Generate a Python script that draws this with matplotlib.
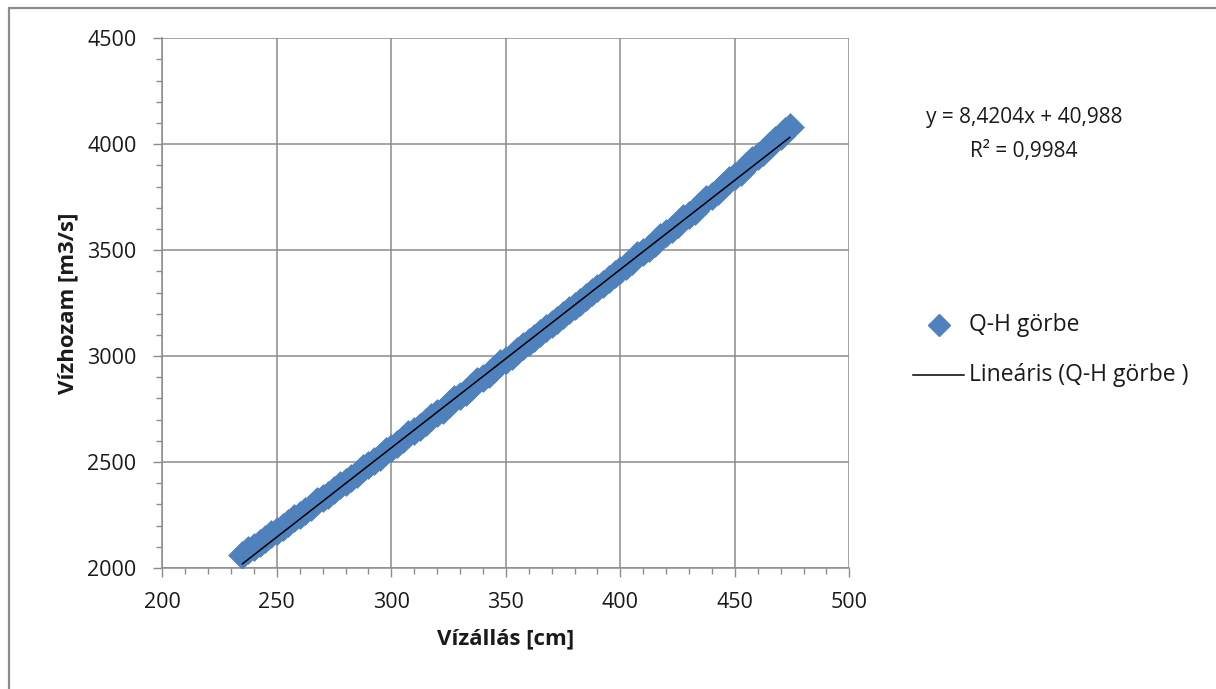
import matplotlib
matplotlib.use("Agg")
import matplotlib.pyplot as plt
from matplotlib.patches import Rectangle
from matplotlib.ticker import MultipleLocator
from matplotlib.lines import Line2D

# Water level (cm) and discharge (m3/s) observations
water_level = [
    235, 237.5, 240, 242.5, 245, 247.5, 250, 252.5, 255, 257.5,
    260, 262.5, 265, 267.5, 270, 272.5, 275, 277.5, 280, 282.5,
    285, 287.5, 290, 292.5, 295, 297.5, 300, 302.5, 305, 307.5,
    310, 312.5, 315, 317.5, 320, 322.5, 325, 327.5, 330, 332.5,
    335, 337.5, 340, 342.5, 345, 347.5, 350, 352.5, 355, 357.5,
    360, 362.5, 365, 367.5, 370, 372.5, 375, 377.5, 380, 382.5,
    385, 387.5, 390, 392.5, 395, 397.5, 400, 402.5, 405, 407.5,
    410, 412.5, 415, 417.5, 420, 422.5, 425, 427.5, 430, 432.5,
    435, 437.5, 440, 442.5, 445, 447.5, 450, 452.5, 455, 457.5,
    460, 462.5, 465, 467.5, 470, 472, 474,
]
discharge = [
    2060, 2084, 2099, 2116, 2138, 2161, 2176, 2192, 2214, 2238,
    2252, 2268, 2290, 2315, 2330, 2346, 2368, 2392, 2407, 2424,
    2446, 2471, 2486, 2503, 2526, 2551, 2567, 2584, 2607, 2632,
    2648, 2665, 2689, 2714, 2731, 2748, 2772, 2797, 2814, 2831,
    2856, 2881, 2898, 2916, 2941, 2966, 2983, 3001, 3025, 3050,
    3067, 3085, 3109, 3135, 3152, 3170, 3194, 3219, 3236, 3254,
    3279, 3304, 3321, 3339, 3364, 3389, 3406, 3424, 3449, 3475,
    3492, 3510, 3535, 3562, 3580, 3598, 3624, 3651, 3668, 3687,
    3713, 3740, 3758, 3777, 3804, 3832, 3850, 3870, 3897, 3925,
    3944, 3965, 3992, 4020, 4041, 4062, 4080,
]

# Linear trend line parameters
slope = 8.4204
intercept = 40.988
r_squared = 0.9984

series_label = "Q-H görbe"
trend_label = "Lineáris (Q-H görbe )"
x_label = "Vízállás [cm]"
y_label = "Vízhozam [m3/s]"

blue = "#4F81BD"
grid_gray = "#8C8C8C"
text_color = "#1a1a1a"

plt.rcParams["font.family"] = ["Open Sans", "DejaVu Sans"]

fig = plt.figure(figsize=(12.16, 6.89), dpi=100)
fig.patch.set_facecolor("white")

ax = fig.add_axes([162.3 / 1216, 1 - 568 / 689, (849.3 - 162.3) / 1216, (568 - 38.3) / 689])

ax.scatter(water_level, discharge, marker="D", s=200, color=blue,
           edgecolors=blue, linewidths=0.5, zorder=3)

x0, x1 = min(water_level), max(water_level)
ax.plot([x0, x1], [slope * x0 + intercept, slope * x1 + intercept],
        color="black", linewidth=1.1, zorder=4)

ax.set_xlim(200, 500)
ax.set_ylim(2000, 4500)
ax.xaxis.set_major_locator(MultipleLocator(50))
ax.xaxis.set_minor_locator(MultipleLocator(10))
ax.yaxis.set_major_locator(MultipleLocator(500))
ax.yaxis.set_minor_locator(MultipleLocator(100))

ax.grid(True, which="major", color=grid_gray, linewidth=1.1)
ax.set_axisbelow(True)
for side in ("top", "right"):
    ax.spines[side].set_visible(False)
for side in ("left", "bottom"):
    ax.spines[side].set_color(grid_gray)
    ax.spines[side].set_linewidth(1.1)

ax.tick_params(which="major", direction="out", length=6.5, width=1.0,
               color=grid_gray, labelsize=15.5, labelcolor=text_color)
ax.tick_params(axis="y", which="major", pad=12)
ax.tick_params(axis="x", which="major", pad=11)
ax.tick_params(which="minor", direction="out", length=4.3, width=1.0,
               color=grid_gray)

ax.set_xlabel(x_label, fontsize=16, fontweight="bold", labelpad=11,
              color=text_color)
ax.set_ylabel(y_label, fontsize=16, fontweight="bold", labelpad=6,
              color=text_color)

# Trend line equation
fig.text(1024 / 1216, 1 - 117 / 689,
         f"y = {slope:.4f}x + {intercept:.3f}".replace(".", ","),
         ha="center", va="center", fontsize=15, color=text_color)
fig.text(1024 / 1216, 1 - 152 / 689,
         f"R² = {r_squared:.4f}".replace(".", ","),
         ha="center", va="center", fontsize=15, color=text_color)

# Legend entries
fig.add_artist(Line2D([939 / 1216], [1 - 325 / 689], marker="D", markersize=11,
                      color=blue, linestyle="none", transform=fig.transFigure))
fig.text(969 / 1216, 1 - 325 / 689, series_label, ha="left", va="center",
         fontsize=16.5, color=text_color)
fig.add_artist(Line2D([913 / 1216, 964 / 1216], [1 - 375 / 689, 1 - 375 / 689],
                      color="black", linewidth=1.1, transform=fig.transFigure))
fig.text(969 / 1216, 1 - 375 / 689, trend_label, ha="left", va="center",
         fontsize=16.5, color=text_color)

# Chart area border
fig.add_artist(Rectangle((8.5 / 1216, -0.1), 1.2, 1.1 - 7.5 / 689,
                         transform=fig.transFigure, fill=False,
                         edgecolor="#8C8C8C", linewidth=1.6, clip_on=False))

fig.savefig("out.png", dpi=100, facecolor="white")
